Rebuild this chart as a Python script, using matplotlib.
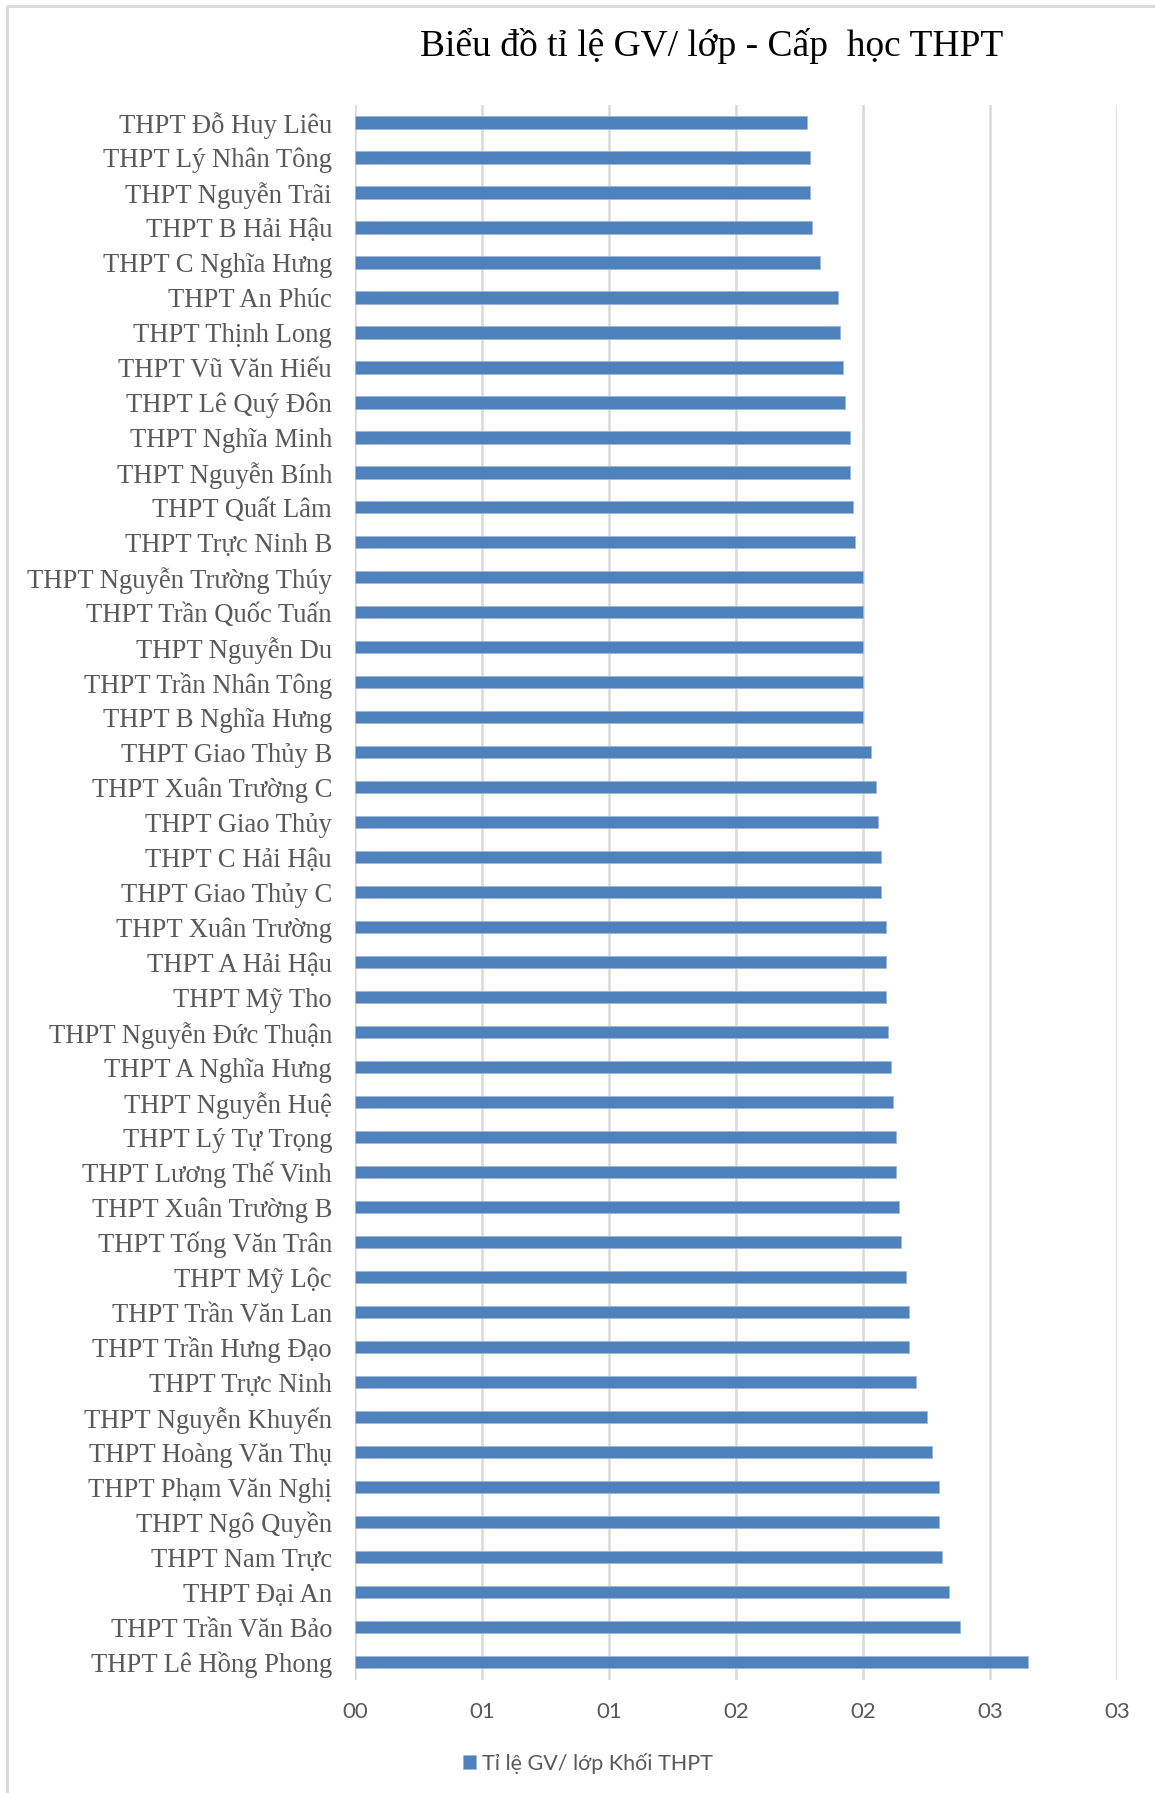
import matplotlib
matplotlib.use("Agg")
import numpy as np
import matplotlib.pyplot as plt
from matplotlib.lines import Line2D

# --- data (top to bottom) ---
schools = [
    "THPT Đỗ Huy Liêu", "THPT Lý Nhân Tông", "THPT Nguyễn Trãi", "THPT B Hải Hậu",
    "THPT C Nghĩa Hưng", "THPT An Phúc", "THPT Thịnh Long", "THPT Vũ Văn Hiếu",
    "THPT Lê Quý Đôn", "THPT Nghĩa Minh", "THPT Nguyễn Bính", "THPT Quất Lâm",
    "THPT Trực Ninh B", "THPT Nguyễn Trường Thúy", "THPT Trần Quốc Tuấn",
    "THPT Nguyễn Du", "THPT Trần Nhân Tông", "THPT B Nghĩa Hưng", "THPT Giao Thủy B",
    "THPT Xuân Trường C", "THPT Giao Thủy", "THPT C Hải Hậu", "THPT Giao Thủy C",
    "THPT Xuân Trường", "THPT A Hải Hậu", "THPT Mỹ Tho", "THPT Nguyễn Đức Thuận",
    "THPT A Nghĩa Hưng", "THPT Nguyễn Huệ", "THPT Lý Tự Trọng", "THPT Lương Thế Vinh",
    "THPT Xuân Trường B", "THPT Tống Văn Trân", "THPT Mỹ Lộc", "THPT Trần Văn Lan",
    "THPT Trần Hưng Đạo", "THPT Trực Ninh", "THPT Nguyễn Khuyến", "THPT Hoàng Văn Thụ",
    "THPT Phạm Văn Nghị", "THPT Ngô Quyền", "THPT Nam Trực", "THPT Đại An",
    "THPT Trần Văn Bảo", "THPT Lê Hồng Phong",
]
ratios = [
    1.78, 1.79, 1.79, 1.80, 1.83, 1.90, 1.91, 1.92, 1.93, 1.95, 1.95, 1.96,
    1.97, 2.00, 2.00, 2.00, 2.00, 2.00, 2.03, 2.05, 2.06, 2.07, 2.07, 2.09,
    2.09, 2.09, 2.10, 2.11, 2.12, 2.13, 2.13, 2.14, 2.15, 2.17, 2.18, 2.18,
    2.21, 2.25, 2.27, 2.30, 2.30, 2.31, 2.34, 2.38, 2.65,
]
x_ticks = [0, 0.5, 1.0, 1.5, 2.0, 2.5, 3.0]
x_tick_labels = ["00", "01", "01", "02", "02", "03", "03"]
series_name = "Tỉ lệ GV/ lớp Khối THPT"
title = "Biểu đồ tỉ lệ GV/ lớp - Cấp  học THPT"

W, H = 1155, 1793
BLUE = "#4F81BD"
GRID = "#D9D9D9"
TEXT = "#595959"

fig = plt.figure(figsize=(W / 100, H / 100), dpi=100)
ax = fig.add_axes([355 / W, 1 - 1679.5 / H, (1117 - 355) / W, (1679.5 - 105) / H])

y = np.arange(len(schools))
ax.barh(y, ratios, height=0.35, color=BLUE, edgecolor="#9DB7D9", linewidth=0.6,
        label=series_name, zorder=3)
ax.set_ylim(len(schools) - 0.5, -0.5)
ax.set_xlim(0, 3.0)

ax.set_yticks(y)
ax.set_yticklabels(schools, family="Liberation Serif", fontsize=19.2, color=TEXT)
ax.set_xticks(x_ticks)
ax.set_xticklabels(x_tick_labels, family="Lato", fontsize=16, color=TEXT)
ax.tick_params(axis="both", length=0)
ax.tick_params(axis="y", pad=16.5)
ax.tick_params(axis="x", pad=16)

ax.grid(axis="x", color=GRID, linewidth=1.8, zorder=0)
ax.set_axisbelow(True)
for s in ax.spines.values():
    s.set_visible(False)

fig.text(712 / W, 1 - 46 / H, title, ha="center", va="center",
         family="Liberation Serif", fontsize=27, color="black")

fig.legend(loc="center", bbox_to_anchor=(588 / W, 1 - 1763 / H), frameon=False,
           handlelength=0.6, handleheight=0.6, handletextpad=0.3,
           prop={"family": "Lato", "size": 15.5}, labelcolor=TEXT)

# chart-area border: only top and left edges are inside the crop
fig.add_artist(Line2D([7 / W, 7 / W, 1.0], [0.0, 1 - 6 / H, 1 - 6 / H],
                      transform=fig.transFigure, color=GRID, linewidth=2))

fig.savefig("out.png", dpi=100)
